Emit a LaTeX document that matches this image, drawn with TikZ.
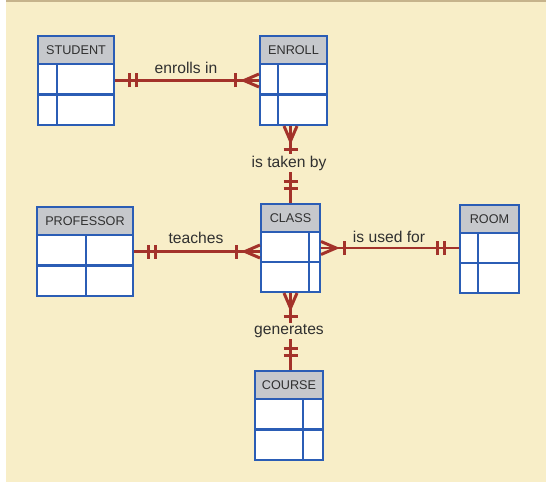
\documentclass[tikz,border=0pt]{standalone}
\usepackage{fontspec}
\setmainfont{Liberation Sans}
\usetikzlibrary{decorations.markings, calc}
\definecolor{paper}{HTML}{F8EEC8}
\definecolor{topbar}{HTML}{C6B38C}
\definecolor{relred}{HTML}{A3322A}
\definecolor{frame}{HTML}{2B5DB5}
\definecolor{headgrey}{HTML}{C6C8CC}
\definecolor{inkgrey}{HTML}{303030}
\tikzstyle{box} = [%
					draw = frame,
					line width = 1.2pt,
					rectangle,
					inner sep = 0pt]
\tikzstyle{cellline} = [%
					draw = frame,
					line width = 1.3pt]
\tikzstyle{rel} = [%
					line width = 1.7pt,
					color = relred]
\tikzstyle{title} = [%
					text = inkgrey,
					font = \fontsize{7.2}{9}\selectfont]
\tikzstyle{tag} = [%
					text = inkgrey,
					fill = paper,
					inner sep = 1pt,
					font = \fontsize{8.9}{11}\selectfont]
\tikzset{
	one start/.style={postaction={decorate, decoration={markings,
		mark=at position 0.28cm with {\draw[rel] (0,-0.14cm) -- (0,0.14cm);},
		mark=at position 0.42cm with {\draw[rel] (0,-0.14cm) -- (0,0.14cm);}}}},
	one end/.style={postaction={decorate, decoration={markings,
		mark=at position -0.42cm with {\draw[rel] (0,-0.14cm) -- (0,0.14cm);},
		mark=at position -0.28cm with {\draw[rel] (0,-0.14cm) -- (0,0.14cm);}}}},
	many start/.style={postaction={decorate, decoration={markings,
		mark=at position 0 with {\draw[rel] (0,0.13cm) -- (0.3cm,0) -- (0,-0.13cm);},
		mark=at position 0.46cm with {\draw[rel] (0,-0.14cm) -- (0,0.14cm);}}}},
	many end/.style={postaction={decorate, decoration={markings,
		mark=at position -0.46cm with {\draw[rel] (0,-0.14cm) -- (0,0.14cm);},
		mark=at position 1 with {\draw[rel] (0,0.13cm) -- (-0.3cm,0) -- (0,-0.13cm);}}}}
}
\begin{document}
\begin{tikzpicture}[x=0.02cm, y=-0.02cm]
		\useasboundingbox (0,0) rectangle (546,486);
		
		% Paper
		\fill[paper] (6,2) rectangle (546,482);
		\fill[topbar] (6,0) rectangle (546,2);
		
		% Entities
		\foreach \n/\t/\l/\u/\r/\b/\d in {%
			student/STUDENT/38/36/114/125/57,
			enroll/ENROLL/260/36/327/125/278,
			class/CLASS/261/204/320/292/309,
			professor/PROFESSOR/37/207/133/296/86,
			room/ROOM/460/205/519/293/478,
			course/COURSE/255/371/323/460/303}
		{
			\fill[white] (\l,\u) rectangle (\r,\b);
			\fill[headgrey] (\l,\u) rectangle (\r,\u+28);
			\draw[cellline] (\l,\u+28) -- (\r,\u+28);
			\draw[cellline] (\l,{(\u+28+\b)/2}) -- (\r,{(\u+28+\b)/2});
			\draw[cellline] (\d,\u+28) -- (\d,\b);
			\node[box, minimum width={(\r-\l)*0.02cm}, minimum height={(\b-\u)*0.02cm}] (\n) at ({(\l+\r)/2},{(\u+\b)/2}) {};
			\node[title] (\n-title) at ({(\l+\r)/2},\u+14) {\t};
		}
		
		% Relationships
		\draw[rel, one start, many end] (student) -- (enroll);
		\draw[rel, many start, one end] (enroll.south -| class.north) -- (class.north);
		\draw[rel, one start, many end] (professor.east) -- (professor.east -| class.west);
		\draw[rel, many start, one end] (class.east) -- (class.east -| room.west);
		\draw[rel, many start, one end] (class.south) -- (class.south |- course.north);
		
		% Labels
		\node[tag] (enrollsin) at (186,68) {enrolls in};
		\node[tag] (istakenby) at (289,163) {is taken by};
		\node[tag] (teaches) at (196,238) {teaches};
		\node[tag] (isusedfor) at (389,237) {is used for};
		\node[tag] (generates) at (289,331) {generates};
	\end{tikzpicture}
\end{document}
